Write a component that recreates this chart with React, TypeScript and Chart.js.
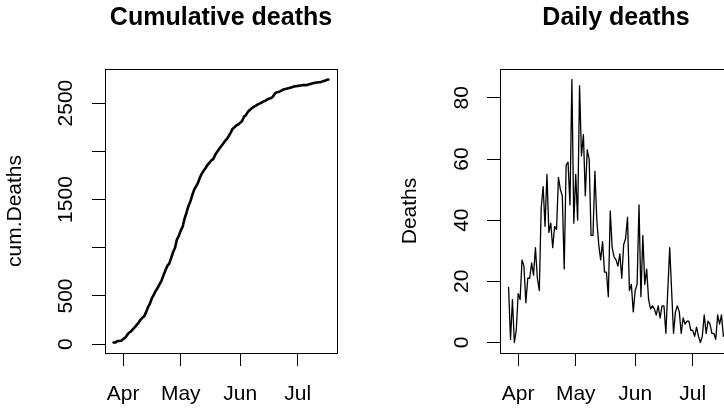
import React, { useEffect, useRef } from 'react';
import { Chart, registerables } from 'chart.js';

Chart.register(...registerables);

const FONT = '"Liberation Sans", Arial, Helvetica, sans-serif';

// First day of the series; one value per consecutive day
const firstDate = '2020-03-27';

const monthTickDates = ['2020-04-01', '2020-05-01', '2020-06-01', '2020-07-01'];
const monthTickLabels = ['Apr', 'May', 'Jun', 'Jul'];

const cumTicks = [0, 500, 1000, 1500, 2000, 2500];
const cumTickLabels = ['0', '500', '', '1500', '', '2500'];

const dailyTicks = [0, 20, 40, 60, 80];
const dailyTickLabels = ['0', '20', '40', '60', '80'];

const cumDeaths = [
  18, 19, 33, 33, 37,
  53, 67, 94, 119, 132, 153, 174, 200, 222, 253,
  274, 291, 335, 386, 424, 479, 515, 554, 585, 623,
  660, 714, 764, 812, 836, 894, 953, 998, 1084, 1123,
  1178, 1218, 1302, 1363, 1431, 1479, 1542, 1602, 1637, 1672,
  1728, 1768, 1800, 1827, 1860, 1883, 1906, 1921, 1964, 1995,
  2023, 2050, 2075, 2104, 2125, 2157, 2191, 2232, 2249, 2268,
  2278, 2295, 2314, 2359, 2374, 2409, 2428, 2446, 2460, 2471,
  2483, 2494, 2503, 2515, 2523, 2535, 2547, 2550, 2566, 2597,
  2612, 2615, 2624, 2635, 2644, 2647, 2654, 2659, 2665, 2671,
  2675, 2678, 2680, 2684, 2686, 2686, 2688, 2696, 2699, 2705,
  2710, 2713, 2716, 2717, 2725, 2730, 2738, 2744,
];

const dailyDeaths = [
  18, 1, 14, 0, 4,
  16, 14, 27, 25, 13, 21, 21, 26, 22, 31,
  21, 17, 44, 51, 38, 55, 36, 39, 31, 38,
  37, 54, 50, 48, 24, 58, 59, 45, 86, 39,
  55, 40, 84, 61, 68, 48, 63, 60, 35, 35,
  56, 40, 32, 27, 33, 23, 23, 15, 43, 31,
  28, 27, 25, 29, 21, 32, 34, 41, 17, 19,
  10, 17, 19, 45, 15, 35, 19, 24, 14, 11,
  12, 11, 9, 12, 8, 12, 12, 3, 17, 31,
  17, 3, 10, 12, 10, 3, 8, 6, 7, 7,
  4, 4, 2, 5, 2, 0, 2, 9, 3, 7,
  6, 3, 3, 1, 9, 6, 9, 2,
];

const dayNumber = (iso: string) => Math.round(Date.parse(iso + 'T00:00:00Z') / 86400000);

const framePlugin = {
  id: 'frame',
  afterDatasetsDraw(chart: any) {
    const { ctx, chartArea: a } = chart;
    ctx.save();
    ctx.strokeStyle = '#000';
    ctx.lineWidth = 1;
    ctx.strokeRect(
      Math.round(a.left) + 0.5,
      Math.round(a.top) + 0.5,
      Math.round(a.right - a.left),
      Math.round(a.bottom - a.top)
    );
    ctx.restore();
  },
};

type PanelProps = {
  left: number;
  title: string;
  yTitle: string;
  values: number[];
  yTicks: number[];
  yTickLabels: string[];
  lineWidth: number;
  yTickPadding: number;
};

function Panel({ left, title, yTitle, values, yTicks, yTickLabels, lineWidth, yTickPadding }: PanelProps) {
  const ref = useRef<HTMLCanvasElement>(null);

  useEffect(() => {
    if (!ref.current) return;
    const x0 = dayNumber(firstDate);
    const xs = values.map((_, i) => x0 + i);
    const xFirst = xs[0];
    const xLast = xs[xs.length - 1];
    const xPad = (xLast - xFirst) * 0.04;
    const yMin = Math.min(...values);
    const yMax = Math.max(...values);
    const yPad = (yMax - yMin) * 0.04;

    const tickFont = { family: FONT, size: 21 };

    const chart = new Chart(ref.current, {
      type: 'line',
      data: {
        datasets: [
          {
            data: xs.map((x, i) => ({ x, y: values[i] })),
            borderColor: '#000',
            borderWidth: lineWidth,
            pointRadius: 0,
            tension: 0,
            fill: false,
            borderJoinStyle: 'round',
            borderCapStyle: 'round',
          },
        ],
      },
      options: {
        animation: false,
        responsive: false,
        events: [],
        layout: { padding: { left: 0, right: 58, top: 0, bottom: 0 } },
        plugins: {
          legend: { display: false },
          tooltip: { enabled: false },
          title: {
            display: true,
            text: title,
            fullSize: false,
            color: '#000',
            font: { family: FONT, size: 25, weight: 'bold' },
            padding: { top: 3.5, bottom: 35.5 },
          },
        },
        scales: {
          x: {
            type: 'linear',
            min: xFirst - xPad,
            max: xLast + xPad,
            bounds: 'data',
            afterFit: (s: any) => {
              s.height = 57;
            },
            afterBuildTicks: (s: any) => {
              s.ticks = monthTickDates.map((d) => ({ value: dayNumber(d) }));
            },
            ticks: {
              autoSkip: false,
              minRotation: 0,
              maxRotation: 0,
              padding: 16,
              color: '#000',
              font: tickFont,
              callback: (_v: any, i: number) => monthTickLabels[i],
            },
            grid: { drawOnChartArea: false, drawTicks: true, tickLength: 13, color: '#000', lineWidth: 1 },
            border: { display: false },
          },
          y: {
            type: 'linear',
            min: yMin - yPad,
            max: yMax + yPad,
            bounds: 'data',
            afterFit: (s: any) => {
              s.width = 105;
            },
            afterBuildTicks: (s: any) => {
              s.ticks = yTicks.map((v) => ({ value: v }));
            },
            ticks: {
              autoSkip: false,
              minRotation: 90,
              maxRotation: 90,
              crossAlign: 'center',
              padding: yTickPadding,
              color: '#000',
              font: tickFont,
              callback: (_v: any, i: number) => yTickLabels[i],
            },
            title: {
              display: true,
              text: yTitle,
              color: '#000',
              font: { family: FONT, size: 21 },
              padding: { top: 3, bottom: 0 },
            },
            grid: { drawOnChartArea: false, drawTicks: true, tickLength: 13, color: '#000', lineWidth: 1 },
            border: { display: false },
          },
        },
      } as any,
      plugins: [framePlugin],
    });
    return () => chart.destroy();
  }, []);

  return (
    <canvas
      ref={ref}
      width={395}
      height={410}
      style={{ position: 'absolute', left, top: 0, width: 395, height: 410 }}
    />
  );
}

export default function App() {
  return (
    <div
      style={{
        position: 'fixed',
        left: 0,
        top: 0,
        width: 724,
        height: 410,
        overflow: 'hidden',
        background: '#fff',
      }}
    >
      <Panel
        left={0}
        title="Cumulative deaths"
        yTitle="cum.Deaths"
        values={cumDeaths}
        yTicks={cumTicks}
        yTickLabels={cumTickLabels}
        lineWidth={2.6}
        yTickPadding={2}
      />
      <Panel
        left={395}
        title="Daily deaths"
        yTitle="Deaths"
        values={dailyDeaths}
        yTicks={dailyTicks}
        yTickLabels={dailyTickLabels}
        lineWidth={1.3}
        yTickPadding={13.6}
      />
    </div>
  );
}
